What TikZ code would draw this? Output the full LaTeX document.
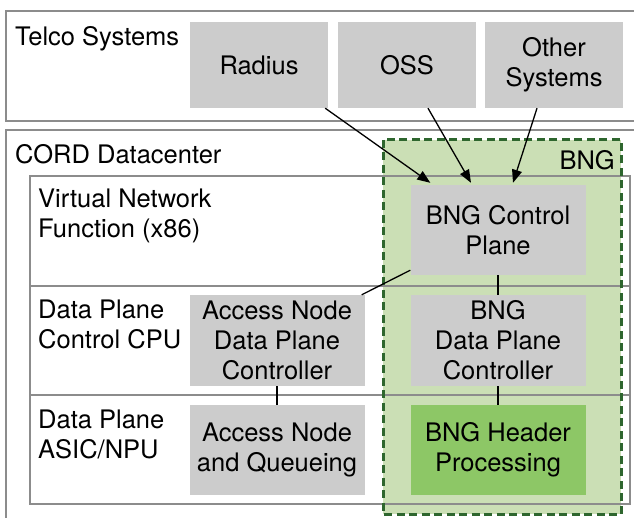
\documentclass[tikz,border=0pt]{standalone}
\usepackage{fontspec}
\setmainfont{TeX Gyre Heros}
\usetikzlibrary{arrows.meta}
\definecolor{boxgray}{RGB}{204,204,204}
\definecolor{linegray}{RGB}{140,140,140}
\definecolor{bnglight}{RGB}{203,223,181}
\definecolor{bngdark}{RGB}{141,199,102}
\definecolor{bngborder}{RGB}{46,102,46}

\begin{document}
\begin{tikzpicture}[x=1pt, y=-1pt,
    every node/.style={font=\fontsize{25.5}{30}\selectfont},
    sysbox/.style={fill=boxgray, inner sep=0pt, align=center, minimum width=138pt, minimum height=86pt},
    funcbox/.style={fill=boxgray, inner sep=0pt, align=center, minimum width=175pt, minimum height=90pt},
    layer/.style={draw=linegray, line width=1.5pt},
    lbl/.style={anchor=north west, inner sep=0pt, align=left},
    arr/.style={line width=1.3pt, -{Triangle[length=13pt,width=10pt]}},
    link/.style={line width=1.3pt}]
    \useasboundingbox (0,0) rectangle (634,518);
    \fill[white] (0,0) rectangle (634,518);

    % outer boxes
    \draw[layer] (6,11) rectangle (645,121);
    \draw[layer] (6,130) rectangle (645,530);
    \node[lbl] (telco) at (15,26) {Telco Systems};
    \node[lbl] (cord) at (15,144) {CORD Datacenter};

    % BNG area
    \fill[bnglight] (383,140) rectangle (621,514);

    % layers
    \draw[layer] (30,176) rectangle (630,286);
    \draw[layer] (30,286) rectangle (630,395);
    \draw[layer] (30,395) rectangle (630,504);
    \node[lbl] (vnf) at (38,189) {Virtual Network\\Function (x86)};
    \node[lbl] (cpu) at (38,300) {Data Plane\\Control CPU};
    \node[lbl] (asic) at (38,410) {Data Plane\\ASIC/NPU};

    \draw[bngborder, line width=3pt, dash pattern=on 8pt off 4.5pt] (383,140) rectangle (621,514);
    \node[anchor=north east, inner sep=0pt] (bnglabel) at (615,150) {BNG};

    % telco systems
    \node[sysbox] (radius) at (259,65) {Radius};
    \node[sysbox] (oss) at (407,65) {OSS};
    \node[sysbox] (other) at (554,65) {Other\\Systems};

    % functions
    \node[funcbox] (ctrl) at (498,230) {BNG Control\\Plane};
    \node[funcbox, minimum height=91pt] (andpc) at (277,340.5) {Access Node\\Data Plane\\Controller};
    \node[funcbox, minimum height=91pt] (bngdpc) at (498,340.5) {BNG\\Data Plane\\Controller};
    \node[funcbox] (anq) at (277,450) {Access Node\\and Queueing};
    \node[funcbox, fill=bngdark] (bhp) at (498,450) {BNG Header\\Processing};

    \draw[arr] ([xshift=-3pt]radius.south east) -- ([xshift=20pt, yshift=2pt]ctrl.north west);
    \draw[arr] ([xshift=21pt]oss.south) -- ([xshift=-27pt, yshift=2pt]ctrl.north);
    \draw[arr] ([xshift=-17pt]other.south) -- ([xshift=15pt, yshift=2pt]ctrl.north);

    \draw[link] ([yshift=5pt]ctrl.south west) -- ([xshift=-3pt]andpc.north east);
    \draw[link] (ctrl) -- (bngdpc);
    \draw[link] (andpc) -- (anq);
    \draw[link] (bngdpc) -- (bhp);
\end{tikzpicture}
\end{document}
